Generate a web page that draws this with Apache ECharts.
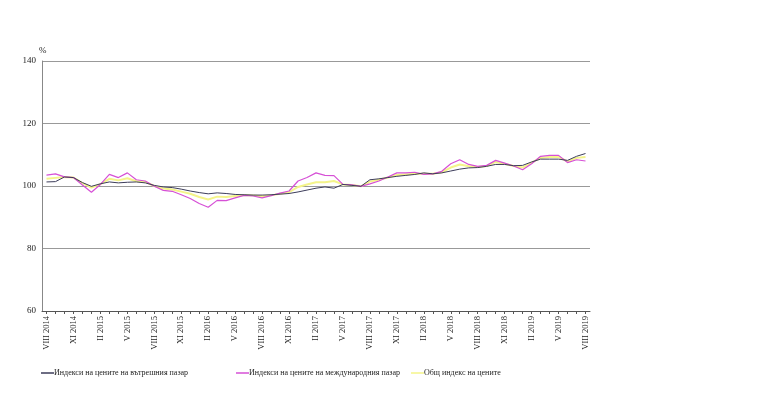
<!DOCTYPE html>
<html><head><meta charset="utf-8">
<script src="https://cdn.jsdelivr.net/npm/echarts@6/dist/echarts.min.js"></script>
<style>html,body{margin:0;padding:0;background:#fff}#c{width:768px;height:401px}</style>
</head><body><div id="c"></div>
<script>
var romans = ['I','II','III','IV','V','VI','VII','VIII','IX','X','XI','XII'];
var startYear = 2014, startMonth = 8, monthCount = 61;
var categories = [];
for (var k = 0; k < monthCount; k++) {
  var m = (startMonth - 1 + k) % 12, y = startYear + Math.floor((startMonth - 1 + k) / 12);
  categories.push(romans[m] + ' ' + y);
}
var seriesNames = ['Индекси на цените на вътрешния пазар','Индекси на цените на международния пазар','Общ индекс на цените'];
var domestic = [101.3,101.4,102.9,102.7,101.1,99.9,100.7,101.3,101.0,101.2,101.3,101.0,100.2,99.7,99.5,99.0,98.4,97.9,97.5,97.8,97.6,97.3,97.2,97.1,97.1,97.2,97.4,97.6,98.1,98.7,99.3,99.7,99.3,100.5,100.2,99.9,102.0,102.3,102.7,103.1,103.4,103.7,104.2,103.9,104.2,104.8,105.4,105.8,105.9,106.3,106.9,106.9,106.5,106.6,107.7,108.6,108.6,108.6,108.2,109.5,110.4];
var international = [103.5,103.9,102.9,102.7,100.3,98.0,100.5,103.7,102.7,104.2,102.0,101.6,99.9,98.6,98.3,97.2,96.0,94.4,93.2,95.4,95.3,96.2,97.0,96.8,96.2,96.9,97.7,98.4,101.6,102.7,104.2,103.4,103.3,100.5,100.4,99.9,100.7,101.6,102.9,104.2,104.2,104.4,103.7,103.9,104.7,107.1,108.4,106.9,106.3,106.6,108.2,107.3,106.4,105.2,107.1,109.5,109.8,109.8,107.5,108.4,108.0];
var overall = [102.3,102.6,102.9,102.7,100.9,99.5,100.6,102.3,101.8,102.5,101.5,101.3,100.0,99.2,98.9,98.2,97.5,96.5,95.7,96.6,96.5,96.8,97.1,97.0,96.7,97.0,97.5,98.0,99.7,100.5,101.2,101.2,101.6,100.5,100.3,99.9,101.4,102.0,102.7,103.5,103.7,103.9,103.9,103.9,104.4,105.9,106.9,106.3,106.1,106.4,107.7,107.1,106.4,105.9,107.5,109.0,109.3,109.3,107.8,109.0,109.3];
var yMin = 60, yMax = 140, yStep = 20;

var FONT = '"Liberation Serif", "DejaVu Serif", serif';
var colors = ['#3c3c5a', '#d650d6', '#f4f48a'];
var chart = echarts.init(document.getElementById('c'), null, {renderer: 'canvas'});
function legendFor(idx, left) {
  return {
    left: left, top: 364, itemWidth: 13, itemHeight: 1.5, itemGap: 0,
    icon: 'rect',
    data: [{name: seriesNames[idx], itemStyle: {color: colors[idx]}}],
    textStyle: {fontFamily: FONT, fontSize: 8, color: '#222', padding: [0,0,0,-5]},
    selectedMode: false
  };
}
chart.setOption({
  animation: false,
  grid: {left: 42, right: 178, top: 61, bottom: 90, containLabel: false},
  legend: [legendFor(0, 36), legendFor(1, 231), legendFor(2, 406)],
  xAxis: {
    type: 'category', data: categories, boundaryGap: true,
    axisLine: {lineStyle: {color: '#555', width: 1}},
    axisTick: {show: true, interval: 0, alignWithLabel: true, length: 3, lineStyle: {color: '#555'}},
    axisLabel: {interval: 2, rotate: 90, fontFamily: FONT, fontSize: 8.5, color: '#222', margin: 5},
    splitLine: {show: false}
  },
  yAxis: {
    type: 'value', min: yMin, max: yMax, interval: yStep,
    name: '%', nameLocation: 'end', nameGap: 6,
    nameTextStyle: {fontFamily: FONT, fontSize: 9, color: '#222', align: 'left', padding: [0,0,0,-3]},
    axisLine: {show: true, lineStyle: {color: '#888', width: 1}},
    axisTick: {show: false},
    axisLabel: {fontFamily: FONT, fontSize: 9, color: '#222', margin: 6},
    splitLine: {show: true, lineStyle: {color: '#999', width: 1}}
  },
  series: [
    {name: seriesNames[2], type: 'line', data: overall, symbol: 'none', z: 2,
     lineStyle: {color: colors[2], width: 2}, itemStyle: {color: colors[2]}},
    {name: seriesNames[1], type: 'line', data: international, symbol: 'none', z: 3,
     lineStyle: {color: colors[1], width: 1.2}, itemStyle: {color: colors[1]}},
    {name: seriesNames[0], type: 'line', data: domestic, symbol: 'none', z: 4,
     lineStyle: {color: colors[0], width: 1}, itemStyle: {color: colors[0]}}
  ]
});
</script></body></html>
